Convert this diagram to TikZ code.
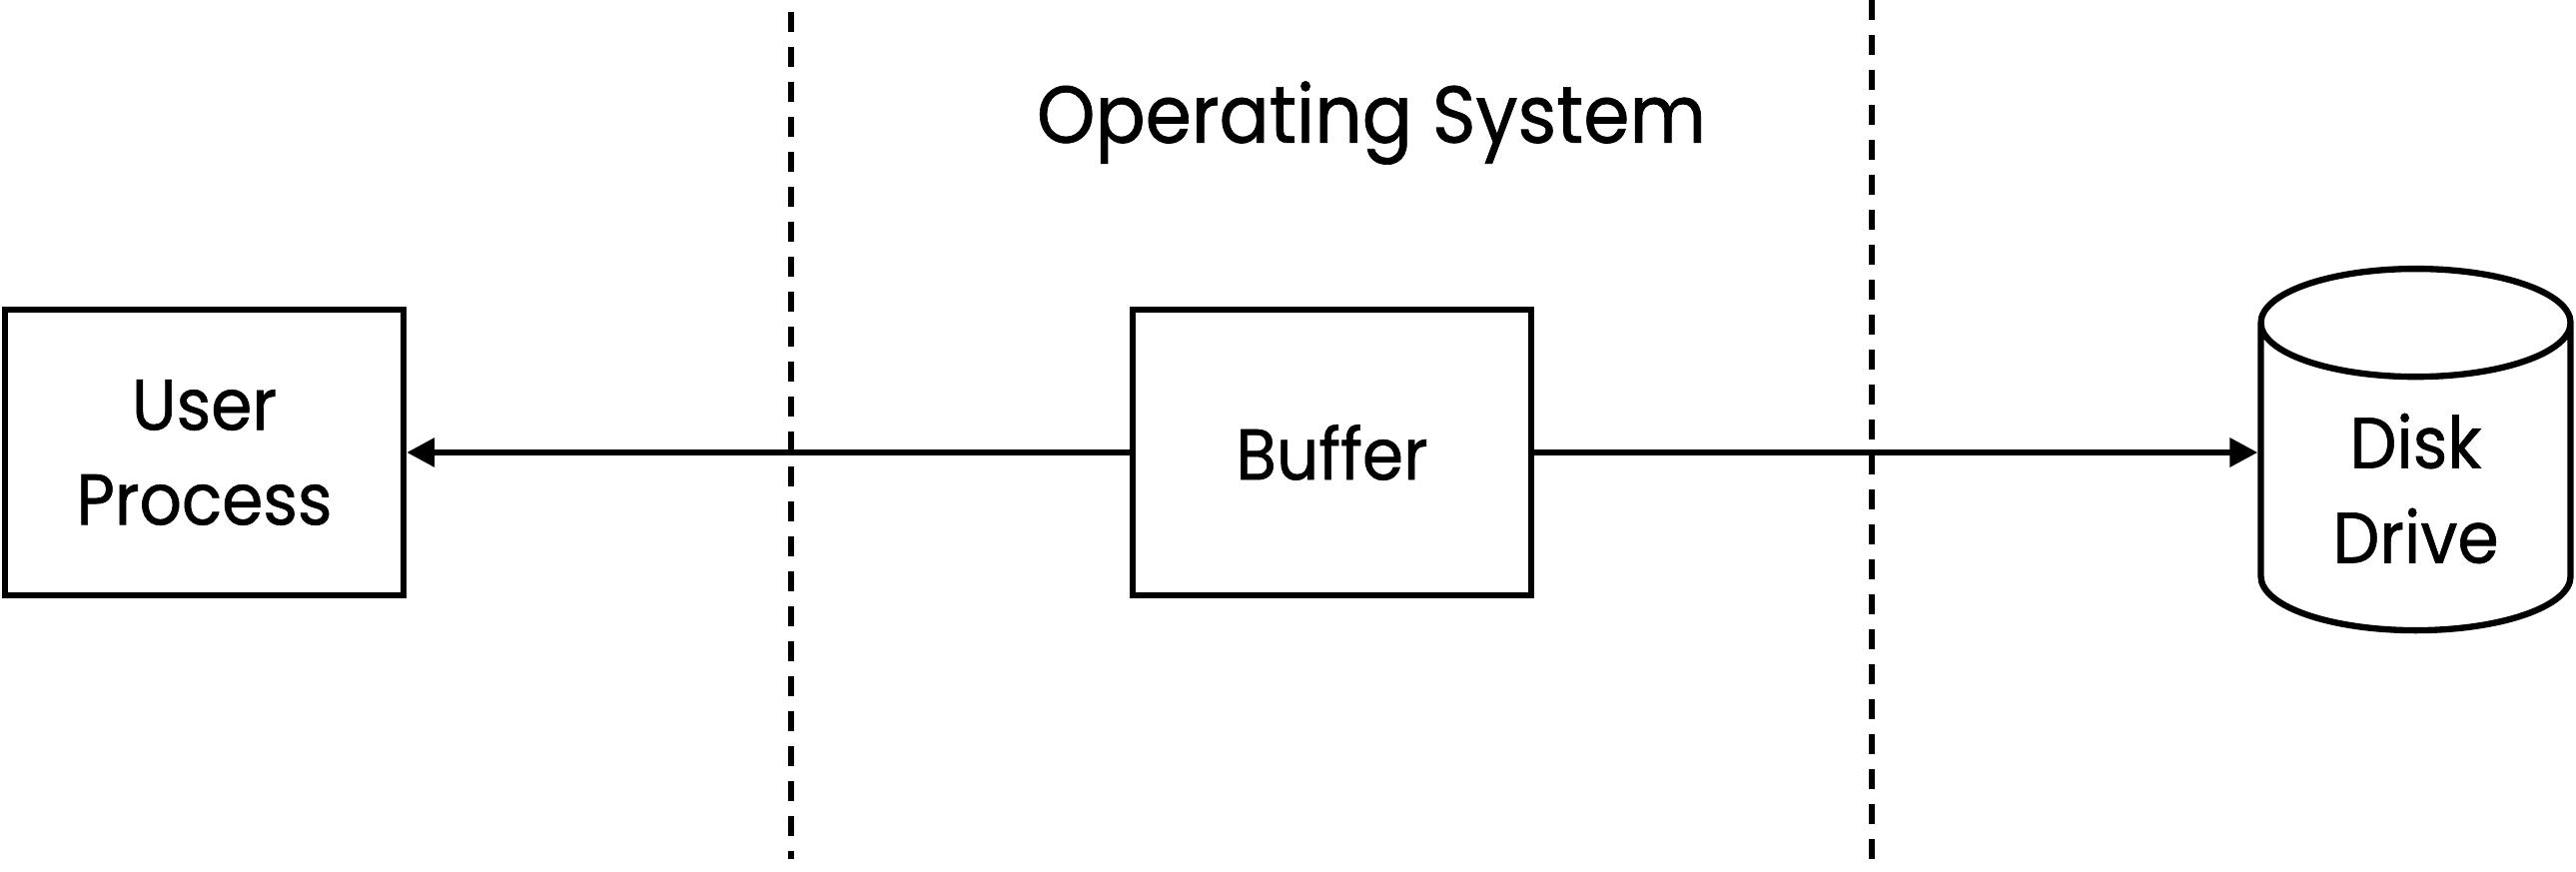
\documentclass[tikz,border=0pt]{standalone}
\usepackage{fontspec}
\setmainfont{Poppins}[FakeStretch=0.92, FakeBold=0.8]
\usetikzlibrary{arrows.meta,shapes.geometric}
\begin{document}
\begin{tikzpicture}[->,>={Triangle[length=0.28cm,width=0.28cm]},line width=1.8pt,
  nodes={font=\fontsize{20.5}{27}\selectfont, align=center}]
		\useasboundingbox (0,0) rectangle (25.79,8.72);
		\node (buf) [draw, minimum width=3.99cm, minimum height=2.86cm] at (13.335,4.19) {Buffer};
		\node (usr) [draw, minimum width=3.99cm, minimum height=2.86cm, left of = buf, node distance=11.29cm] {User\\Process};
		\node (disk) [draw, shape=cylinder, shape border rotate=90, aspect=0.57, minimum width=3.1cm, minimum height=3.62cm, right of = buf, node distance=10.85cm, yshift=-0.36cm] {Disk\\Drive};
		\node (os) [font=\fontsize{23}{29}\selectfont] at (13.73,7.49) {Operating System};
		\draw [-, dash pattern=on 0.2cm off 0.15cm] (7.92,8.60) -- (7.92,0.12);
		\draw [-, dash pattern=on 0.2cm off 0.15cm] (18.74,8.72) -- (18.74,0.12);
		\draw (buf) -> (usr);
		\draw (buf) -> (disk.west |- buf);
		\end{tikzpicture}
\end{document}
